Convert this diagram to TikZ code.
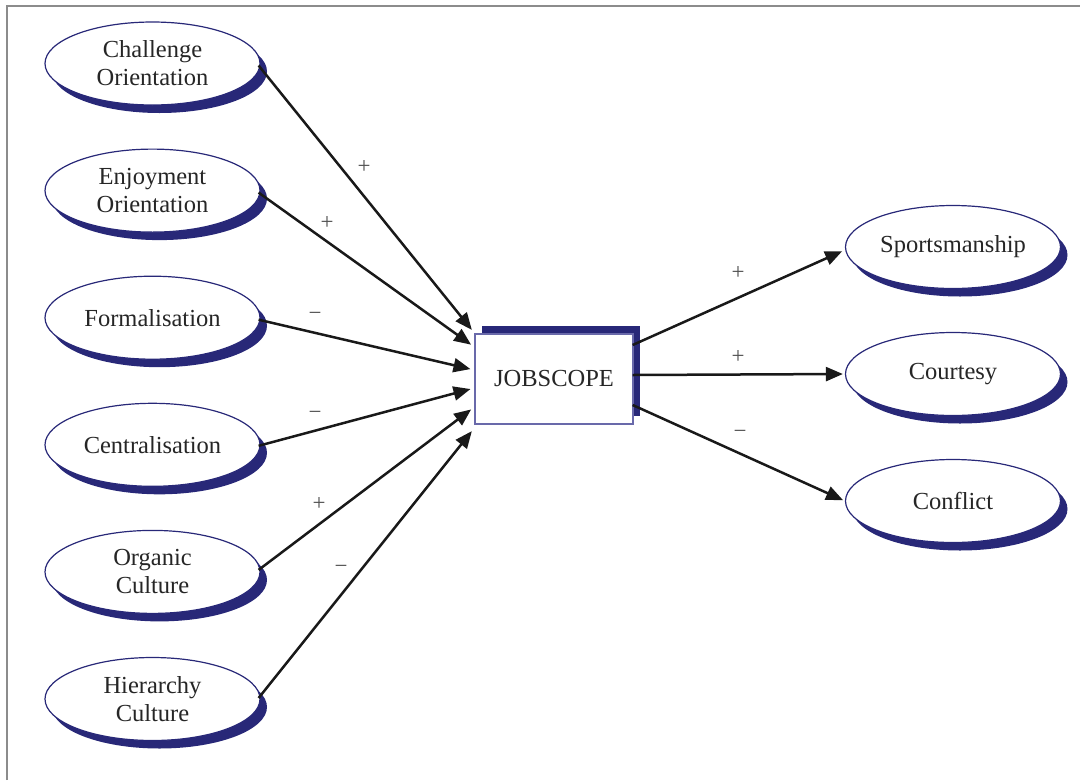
\documentclass[tikz,border=0pt]{standalone}
\usepackage{fontspec}
\setmainfont{Liberation Serif}
\usetikzlibrary{shapes.geometric,shadows,arrows.meta}
\definecolor{navy}{RGB}{40,40,120}
\definecolor{boxline}{RGB}{105,105,170}
\definecolor{signgray}{RGB}{80,80,80}
\definecolor{framegray}{RGB}{140,140,140}
\tikzset{
  construct/.style={ellipse, draw=navy, line width=1.2pt, fill=white,
    minimum width=215pt, minimum height=83pt, inner sep=0pt, align=center,
    font=\fontsize{24.5}{28}\selectfont, text=black!85,
    drop shadow={shadow xshift=7pt, shadow yshift=-8pt, fill=navy, opacity=1}},
  focal/.style={rectangle, draw=boxline, line width=1.3pt, fill=white,
    minimum width=158pt, minimum height=90pt, inner sep=0pt,
    font=\fontsize{24.5}{28}\selectfont, text=black!85,
    drop shadow={shadow xshift=7pt, shadow yshift=8pt, fill=navy, opacity=1}},
  link/.style={line width=2.5pt, black!90, -{Triangle[length=17pt,width=14pt]}},
  sign/.style={text=signgray, font=\fontsize{23}{24}\selectfont, inner sep=0pt}
}
\begin{document}
\begin{tikzpicture}[x=1pt, y=-1pt]
  \useasboundingbox (0,0) rectangle (1080,780);
  % page frame
  \draw[framegray, line width=1.5pt] (7,780) -- (7,6) -- (1080,6);

  % antecedents
  \node[construct] (ch) at (152.5,63.5)  {Challenge\\Orientation};
  \node[construct] (en) at (152.5,190.6) {Enjoyment\\Orientation};
  \node[construct] (fo) at (152.5,317.7) {Formalisation};
  \node[construct] (ce) at (152.5,444.8) {Centralisation};
  \node[construct] (oc) at (152.5,571.9) {Organic\\Culture};
  \node[construct] (hc) at (152.5,699)   {Hierarchy\\Culture};

  % central construct
  \node[focal] (js) at (554,379) {JOBSCOPE};

  % outcomes
  \node[construct] (sp) at (953,247) {Sportsmanship};
  \node[construct] (co) at (953,374) {Courtesy};
  \node[construct] (cf) at (953,501) {Conflict};

  % paths into JOBSCOPE
  \draw[link, shorten >=4pt] ([xshift=-2pt,yshift=-2pt]ch.east) -- ([yshift=46pt]js.west);
  \draw[link, shorten >=4pt] ([xshift=-2pt,yshift=-2pt]en.east) -- ([yshift=32pt]js.west);
  \draw[link, shorten >=4pt] ([xshift=-2pt,yshift=-2pt]fo.east) -- ([yshift=9pt]js.west);
  \draw[link, shorten >=4pt] ([xshift=-2pt,yshift=-1pt]ce.east) -- ([yshift=-9pt]js.west);
  \draw[link, shorten >=4pt] ([xshift=-2pt,yshift=2pt]oc.east) -- ([yshift=-28pt]js.west);
  \draw[link, shorten >=4pt] ([xshift=-2pt,yshift=1pt]hc.east) -- ([yshift=-49pt]js.west);

  % paths out of JOBSCOPE
  \draw[link, shorten >=3pt] ([xshift=-1pt,yshift=34pt]js.east) -- ([yshift=-3pt]sp.west);
  \draw[link, shorten >=2pt] ([xshift=-1pt,yshift=4pt]js.east) -- (co.west);
  \draw[link, shorten >=2pt] ([xshift=-1pt,yshift=-26pt]js.east) -- (cf.west);

  % path signs
  \node[sign] (s1) at (364,167) {+};
  \node[sign] (s2) at (327,223) {+};
  \node[sign] (s3) at (315,316) {−};
  \node[sign] (s4) at (315,415) {−};
  \node[sign] (s5) at (319,504) {+};
  \node[sign] (s6) at (341,569) {−};
  \node[sign] (s7) at (738,273) {+};
  \node[sign] (s8) at (738,357) {+};
  \node[sign] (s9) at (740,434) {−};
\end{tikzpicture}
\end{document}
